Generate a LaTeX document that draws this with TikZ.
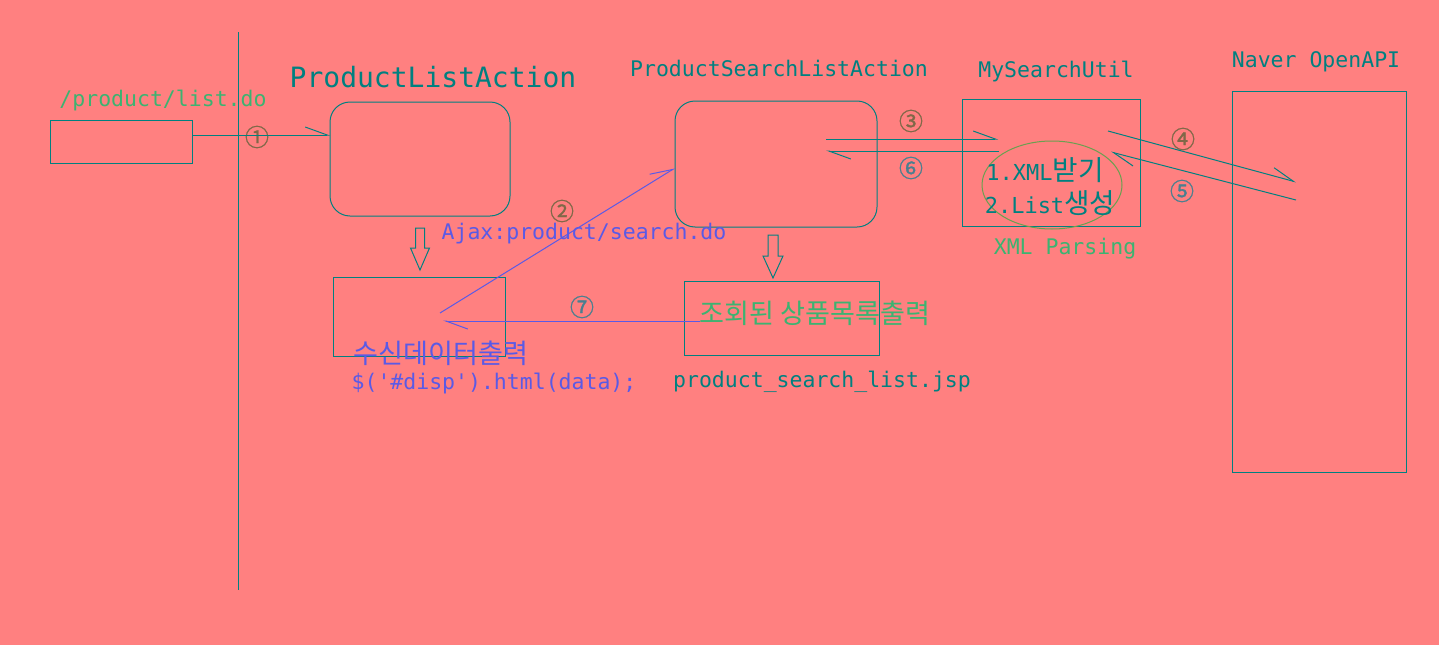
\documentclass[tikz,border=0pt]{standalone}
\usepackage{fontspec}
\usepackage{xcolor}
\usepackage{tikz}
\usetikzlibrary{arrows.meta, positioning, shapes.geometric}

\newfontfamily\mono{DejaVu Sans Mono}
\newfontfamily\kr[Scale=1.26]{Noto Sans CJK KR}
\newfontfamily\numfont[FakeBold=1.2]{Noto Sans CJK KR}

\definecolor{bgpink}{HTML}{FF8080}
\definecolor{tealc}{HTML}{008080}
\definecolor{greenc}{HTML}{3CB371}
\definecolor{bluec}{HTML}{5A5AE6}
\definecolor{brownc}{HTML}{806848}
\definecolor{grayc}{HTML}{4A7F90}
\definecolor{olivec}{HTML}{6AA050}

\begin{document}
\begin{tikzpicture}[
        x=1pt, y=-1pt,
        line width=1pt,
        every node/.style={inner sep=0pt, outer sep=0pt},
        txt/.style={font=\mono\fontsize{21.5}{24}\selectfont, text=tealc},
        bigtxt/.style={font=\mono\fontsize{28}{30}\selectfont, text=tealc},
        num/.style={font=\numfont\fontsize{24}{26}\selectfont},
        plainbox/.style={draw=tealc, rectangle},
        roundbox/.style={draw=tealc, rectangle, rounded corners=20pt},
        flow/.style={draw=tealc, -{Straight Barb[harpoon, length=22pt, width=16pt]}},
        ajaxflow/.style={draw=bluec, -{Straight Barb[harpoon, length=22pt, width=16pt]}},
        hollow/.style={draw=tealc, line join=miter}
        ]
        \fill[bgpink] (0,0) rectangle (1439,645);
        \useasboundingbox (0,0) rectangle (1439,645);

        % divider
        \coordinate (divtop) at (238,32);
        \coordinate (divbot) at (238,590);
        \draw[tealc] (divtop) -- (divbot);

        % Nodes
        \node[plainbox, minimum width=142pt, minimum height=43pt] (listdo) at (121,141.5) {};
        \node[roundbox, minimum width=180pt, minimum height=114pt] (plaction) at (420,159) {};
        \node[plainbox, minimum width=172pt, minimum height=79pt] (dispbox) at (419,316.5) {};
        \node[roundbox, minimum width=202pt, minimum height=126pt] (psaction) at (776,164) {};
        \node[plainbox, minimum width=195pt, minimum height=74pt] (resultbox) at (781.5,318) {};
        \node[plainbox, minimum width=178pt, minimum height=127pt] (util) at (1051,162.5) {};
        \node[draw=olivec, ellipse, minimum width=140pt, minimum height=88pt] (parse) at (1052,185) {};
        \node[plainbox, minimum width=174pt, minimum height=381pt] (naver) at (1319,281.5) {};

        % Labels
        \node[txt, text=greenc] (lbllistdo) at (163,101) {/product/list.do};
        \node[bigtxt] (lblplaction) at (433,77) {ProductListAction};
        \node[txt] (lblpsaction) at (779,68) {ProductSearchListAction};
        \node[txt] (lblutil) at (1056,72) {MySearchUtil};
        \node[txt] (lblnaver) at (1316,62) {Naver OpenAPI};
        \node[txt, text=bluec] (ajax) at (584,234) {Ajax:product/search.do};
        \node[txt, text=bluec] (disp1) at (441,353) {\kr 수신데이터출력};
        \node[txt, text=bluec] (disp2) at (494,384) {\$('\#disp').html(data);};
        \node[txt, text=greenc] (result) at (815,313) {\kr 조회된 상품목록출력};
        \node[txt] (jsp) at (822,382) {product\_search\_list.jsp};
        \node[txt, font=\mono\fontsize{22}{24}\selectfont] (parse1) at (1045,170) {1.XML{\kr 받기}};
        \node[txt, font=\mono\fontsize{22}{24}\selectfont] (parse2) at (1050,203) {2.List{\kr 생성}};
        \node[txt, text=greenc] (xmlparse) at (1065,249) {XML Parsing};

        % step numbers
        \node[num, text=brownc] (n1) at (257,137) {①};
        \node[num, text=brownc] (n2) at (562,211) {②};
        \node[num, text=brownc] (n3) at (911,121) {③};
        \node[num, text=brownc] (n4) at (1183,139) {④};
        \node[num, text=grayc] (n5) at (1182,191) {⑤};
        \node[num, text=grayc] (n6) at (911,168) {⑥};
        \node[num, text=grayc] (n7) at (582,307) {⑦};

        % Arrows
        \draw[flow] ([yshift=6.5pt]listdo.east) -- ([yshift=6.5pt]listdo.east -| plaction.west);
        \draw[ajaxflow] ([xshift=21pt, yshift=3.5pt]dispbox.center) -- ([yshift=-4pt]psaction.west);
        \draw[flow] ([xshift=50pt, yshift=25pt]psaction.center) -- ([xshift=36pt, yshift=23.5pt]util.west);
        \draw[flow] ([xshift=37pt, yshift=11.5pt]util.west) -- ([xshift=50pt, yshift=13pt]psaction.center);
        \draw[flow] ([xshift=-32pt, yshift=31.5pt]util.east) -- ([xshift=-23pt, yshift=99.5pt]naver.center);
        \draw[flow] ([xshift=-23pt, yshift=81.5pt]naver.center) -- ([xshift=-29pt, yshift=10.5pt]util.east);
        \draw[ajaxflow] ([xshift=16pt, yshift=-3pt]resultbox.west) -- ([xshift=24pt, yshift=-4.5pt]dispbox.center);

        % hollow down arrows
        \coordinate (down1) at (plaction.south |- 0,228);
        \coordinate (down2) at (773,235);
        \draw[hollow] (down1) ++(-4.5,0) -- ++(0,20) -- ++(-5,0) -- ++(9.5,22) -- ++(9.5,-22) -- ++(-5,0) -- ++(0,-20) -- cycle;
        \draw[hollow] (down2) ++(-5,0) -- ++(0,21) -- ++(-5,0) -- ++(10,22) -- ++(10,-22) -- ++(-5,0) -- ++(0,-21) -- cycle;
    \end{tikzpicture}
\end{document}
